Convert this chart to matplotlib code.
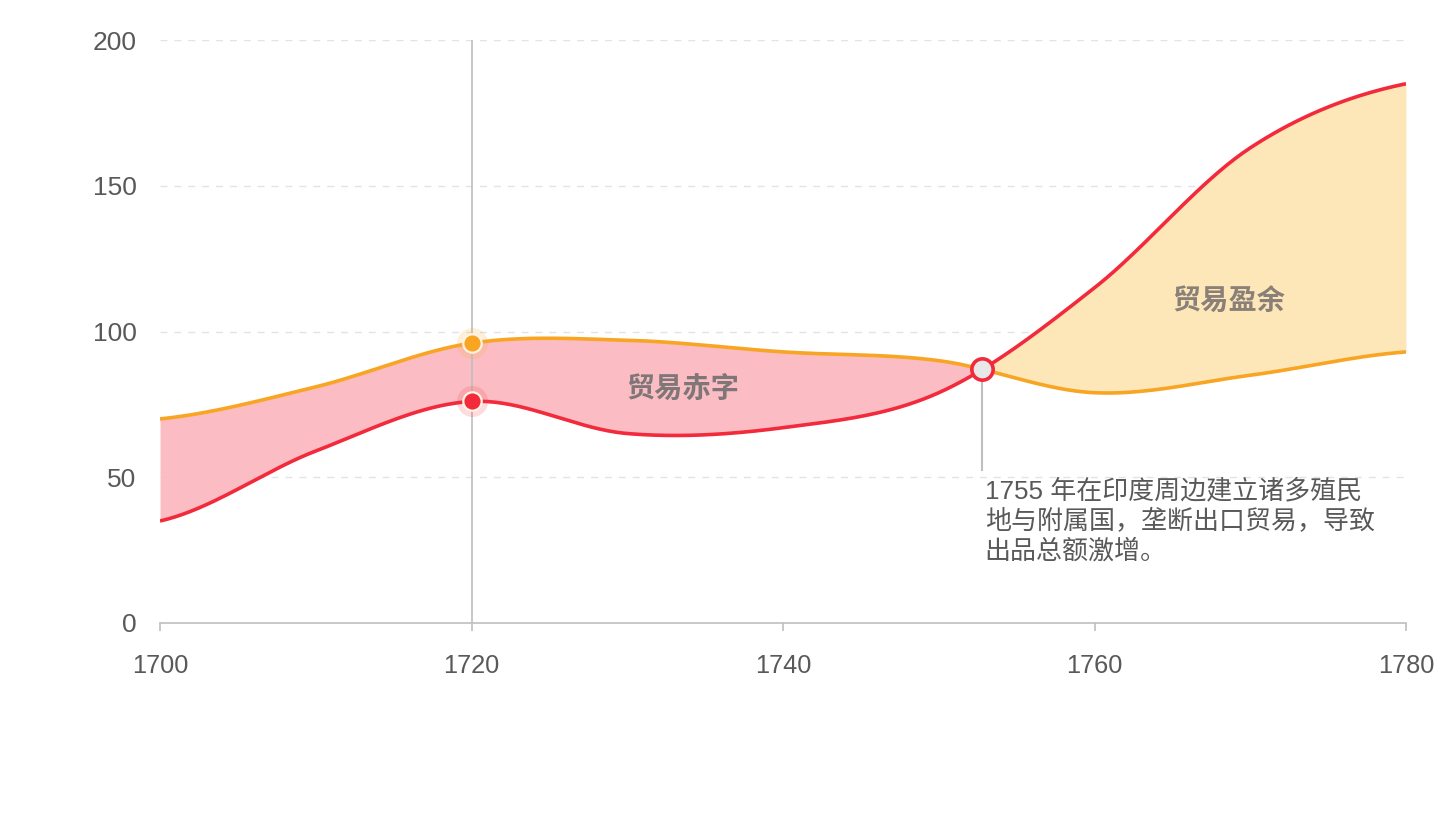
import numpy as np
import matplotlib
matplotlib.use("Agg")
from matplotlib import pyplot as plt

plt.rcParams['font.family'] = ['Liberation Sans', 'Noto Sans CJK SC', 'DejaVu Sans']

# England - East Indies trade (Playfair)
years = [1700, 1710, 1720, 1730, 1740, 1750, 1760, 1770, 1780]
exports = [35, 59, 76, 65, 67, 79, 115, 163, 185]
imports = [70, 81, 96, 97, 93, 90, 79, 85, 93]

highlight_year = 1720
deficit_label = '贸易赤字'
surplus_label = '贸易盈余'
note = '1755 年在印度周边建立诸多殖民\n地与附属国，垄断出口贸易，导致\n出品总额激增。'

ORANGE = '#F8A523'
RED = '#F22A3C'
PINK = '#FBBAC0'
YELLOW = '#FDE6B6'
TEXT = '#595959'
AXIS = '#BFBFBF'


def smooth(xs, ys, n=40):
    # cardinal (catmull-rom) spline through the points, drawing only
    xs = np.asarray(xs, float)
    ys = np.asarray(ys, float)
    m = np.zeros_like(ys)
    m[1:-1] = (ys[2:] - ys[:-2]) / 2
    m[0] = (ys[1] - ys[0]) / 2
    m[-1] = (ys[-1] - ys[-2]) / 2
    ox, oy = [], []
    for i in range(len(xs) - 1):
        t = np.linspace(0, 1, n, endpoint=False)
        h00 = 2 * t**3 - 3 * t**2 + 1
        h10 = t**3 - 2 * t**2 + t
        h01 = -2 * t**3 + 3 * t**2
        h11 = t**3 - t**2
        ox.append(xs[i] + t * (xs[i + 1] - xs[i]))
        oy.append(h00 * ys[i] + h10 * m[i] + h01 * ys[i + 1] + h11 * m[i + 1])
    ox.append([xs[-1]])
    oy.append([ys[-1]])
    return np.concatenate(ox), np.concatenate(oy)


def main():
    fig = plt.figure(figsize=(14.46, 8.14), dpi=100)
    ax = fig.add_axes([160 / 1446, 191 / 814, 1246 / 1446, 583 / 814])

    sx, s_exp = smooth(years, exports)
    _, s_imp = smooth(years, imports)

    for v in [50, 100, 150, 200]:
        ax.axhline(v, color='#E3E3E3', lw=1, ls=(0, (5, 5)), zorder=0)

    ax.fill_between(sx, s_exp, s_imp, where=s_imp >= s_exp, interpolate=True,
                    color=PINK, lw=0, zorder=1, alpha=0.95)
    ax.fill_between(sx, s_exp, s_imp, where=s_exp >= s_imp, interpolate=True,
                    color=YELLOW, lw=0, zorder=1, alpha=0.95)

    ax.plot(sx, s_imp, color=ORANGE, lw=2.6, zorder=3, solid_capstyle='butt')
    ax.plot(sx, s_exp, color=RED, lw=2.6, zorder=3, solid_capstyle='butt')

    # crosshair at highlighted year
    ax.plot([highlight_year, highlight_year], [0, 200], color=AXIS, lw=1.2, zorder=2)
    i = years.index(highlight_year)
    for val, c in [(imports[i], ORANGE), (exports[i], RED)]:
        ax.scatter([highlight_year], [val], s=500, color=c, alpha=0.16, lw=0, zorder=4)
        ax.scatter([highlight_year], [val], s=175, color=c, edgecolors='#FFF3E0',
                   linewidths=1.6, zorder=5)

    # crossing of the two curves
    d = s_exp - s_imp
    k = np.where((d[:-1] < 0) & (d[1:] >= 0))[0][0]
    f = -d[k] / (d[k + 1] - d[k])
    cx = sx[k] + f * (sx[k + 1] - sx[k])
    cy = s_imp[k] + f * (s_imp[k + 1] - s_imp[k])
    ax.plot([cx, cx], [cy, 52.5], color=AXIS, lw=1.5, zorder=2)
    ax.scatter([cx], [cy], s=235, color='#E8E8E8', edgecolors=RED, linewidths=2.6, zorder=6)
    ax.text(cx + 0.15, 49.6, note, ha='left', va='top', fontsize=18.7, color=TEXT,
            linespacing=1.27, zorder=6)

    ax.text(1733.6, 80.3, deficit_label, ha='center', va='center', fontsize=20.3,
            color='#7F7777', fontweight='bold', zorder=6)
    ax.text(1768.6, 110, surplus_label, ha='center', va='center', fontsize=20.3,
            color='#8A8078', fontweight='bold', zorder=6)

    ax.set_xlim(1700, 1780)
    ax.set_ylim(0, 200)
    ax.set_xticks([1700, 1720, 1740, 1760, 1780])
    ax.set_yticks([0, 50, 100, 150, 200])
    for s in ['top', 'right', 'left']:
        ax.spines[s].set_visible(False)
    ax.spines['bottom'].set_color(AXIS)
    ax.spines['bottom'].set_linewidth(1.2)
    ax.tick_params(axis='x', length=6, width=1.2, color=AXIS, pad=16,
                   labelsize=18.3, labelcolor=TEXT)
    ax.tick_params(axis='y', length=0, pad=17, labelsize=19, labelcolor=TEXT)
    ax.get_xticklines()[2].set_color('#FCD9A0')
    ax.patch.set_alpha(0)

    fig.savefig('out.png', dpi=100)


if __name__ == '__main__':
    main()
